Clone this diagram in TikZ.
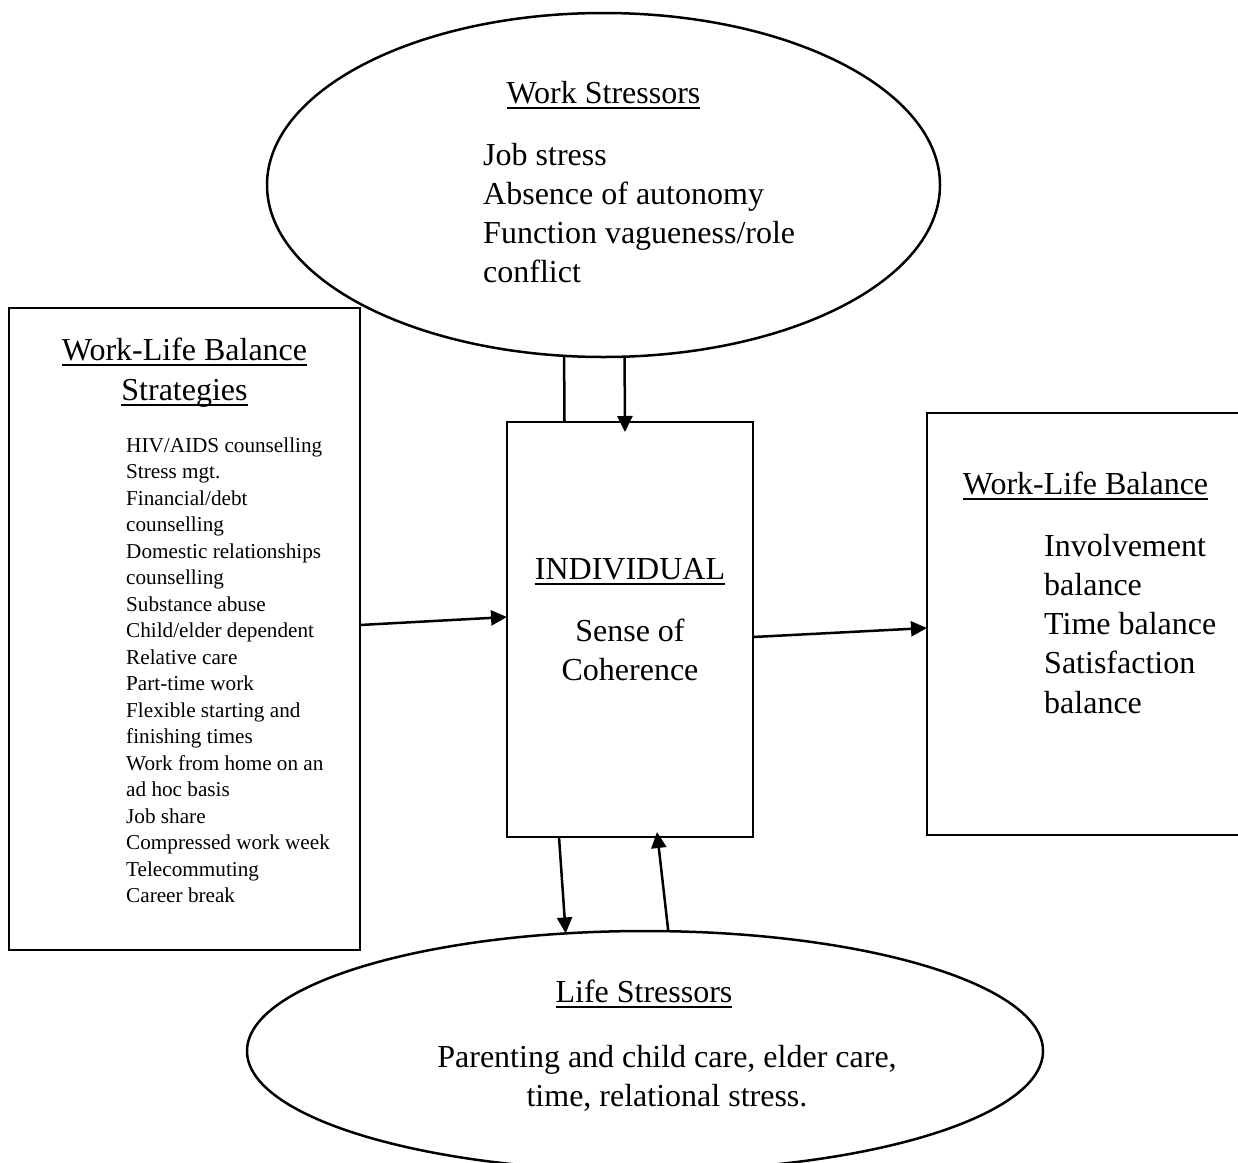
\documentclass[tikz,border=0pt]{standalone}
\usepackage{fontspec}
\setmainfont{Liberation Serif}
\usetikzlibrary{shapes.geometric,arrows.meta,calc}

% underlined heading with a fixed-depth rule
\newcommand\ulx[1]{\leavevmode\setbox0\hbox{#1}\rlap{\copy0}\rule[-5.5pt]{\wd0}{1.8pt}}
% stacked lines whose baseline is the first line
\newcommand\stack[2][l]{\begin{tabular}[t]{@{}#1@{}}#2\end{tabular}}
\newcommand\bigtext{\fontsize{32}{39.3}\selectfont}
\newcommand\smalltext{\fontsize{21.2}{26.5}\selectfont}

\tikzset{
  oval/.style={ellipse, draw, line width=2.5pt, inner sep=0pt, outer sep=0pt},
  panel/.style={rectangle, draw, line width=2.8pt, inner sep=0pt, outer sep=0pt},
  txt/.style={inner sep=0pt, font=\bigtext},
  smalltxt/.style={inner sep=0pt, font=\smalltext},
  arr/.style={-{Triangle[length=16pt,width=15pt]}},
  link/.style={line width=2.5pt}
}

\begin{document}
\begin{tikzpicture}[x=1pt, y=-1pt]
\useasboundingbox (0,0) rectangle (1238,1162);
\clip (0,0) rectangle (1238,1162);

% shapes
\node[oval, minimum width=673pt, minimum height=344pt] (ws) at (603.5,185) {};
\node[oval, minimum width=796pt, minimum height=240pt] (ls) at (645,1051) {};
\node[panel, minimum width=351pt, minimum height=642pt] (lb) at (184.5,629) {};
\node[panel, minimum width=246pt, minimum height=415pt] (ctr) at (630,629.5) {};
\node[panel, minimum width=317pt, minimum height=422pt] (rb) at (1085.5,624) {};

% work stressors
\node[txt, anchor=base] (wsT) at (603.5,103) {\ulx{Work Stressors}};
\node[txt, anchor=base west] (wsL) at (483,165)
  {\stack{Job stress\\Absence of autonomy\\Function vagueness/role\\conflict}};

% strategies
\node[txt, anchor=base] (lbT1) at (184.5,360) {\ulx{Work-Life Balance}};
\node[txt, anchor=base] (lbT2) at (184.5,400) {\ulx{Strategies}};
\node[smalltxt, anchor=base west] (lbL) at (126,452)
  {\stack{HIV/AIDS counselling\\Stress mgt.\\Financial/debt\\counselling\\
   Domestic relationships\\counselling\\Substance abuse\\Child/elder dependent\\
   Relative care\\Part-time work\\Flexible starting and\\finishing times\\
   Work from home on an\\ad hoc basis\\Job share\\Compressed work week\\
   Telecommuting\\Career break}};

% individual
\node[txt, anchor=base] (ctrT) at (630,579) {\ulx{INDIVIDUAL}};
\node[txt, anchor=base] (ctrL) at (630,641) {\stack[c]{Sense of\\Coherence}};

% work-life balance
\node[txt, anchor=base] (rbT) at (1085.5,494) {\ulx{Work-Life Balance}};
\node[txt, anchor=base west] (rbL) at (1044,556)
  {\stack{Involvement\\balance\\Time balance\\Satisfaction\\balance}};

% life stressors
\node[txt, anchor=base] (lsT) at (644,1002) {\ulx{Life Stressors}};
\node[txt, anchor=base] (lsL) at (667,1067)
  {\stack[c]{Parenting and child care, elder care,\\time, relational stress.}};

% connectors
\draw[link] (ws.257) -- ($(ctr.north west)+(57.5,0)$);
\draw[link, arr] (ws.277) -- ($(ctr.north west)+(118,10)$);
\draw[link, arr] ($(lb.east)+(0,-4)$) -- ($(ctr.west)+(0,-12.5)$);
\draw[link, arr] ($(ctr.east)+(0,7.5)$) -- ($(rb.west)+(0,4)$);
\draw[link, arr] ($(ctr.south west)+(52,0)$) -- (ls.124);
\draw[link, arr] (ls.79) -- ($(ctr.south west)+(150,-5)$);
\end{tikzpicture}
\end{document}
